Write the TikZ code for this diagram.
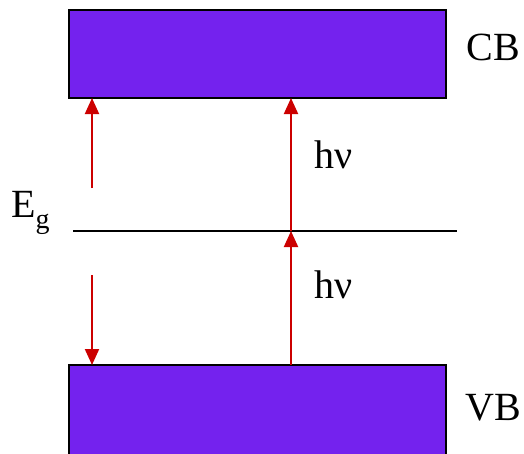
\documentclass[tikz,border=0pt]{standalone}
\usepackage{fontspec}
\setmainfont{Liberation Serif}
\usetikzlibrary{arrows.meta}
\definecolor{bandpurple}{RGB}{116,34,238}
\definecolor{arrred}{RGB}{204,0,0}
\tikzset{
  band/.style={draw=black, line width=2pt, fill=bandpurple, minimum width=377pt, inner sep=0pt},
  lbl/.style={inner sep=0pt, font=\fontsize{40}{44}\selectfont},
  photon/.style={draw=arrred, line width=2pt, -{Triangle[width=14pt,length=16pt]}},
  level/.style={draw=black, line width=2pt}
}
\begin{document}
\begin{tikzpicture}[x=1pt,y=-1pt]
\useasboundingbox (0,0) rectangle (524,453);
\clip (0,0) rectangle (524,453);
\node[band, minimum height=88pt] (cb) at (257.5,54) {};
\node[band, minimum height=110pt] (vb) at (257.5,420) {};
\coordinate (l1) at (73,231);
\coordinate (l2) at (457,231);
\draw[level] (l1) -- (l2);
\coordinate (a1) at (92,188);
\coordinate (a1e) at (92,98);
\coordinate (a2) at (92,275);
\coordinate (a2e) at (92,365);
\coordinate (b0) at (291,365);
\coordinate (b1) at (291,231);
\coordinate (b2) at (291,98);
\draw[photon] (a1) -- (a1e);
\draw[photon] (a2) -- (a2e);
\draw[photon] (b0) -- (b1);
\draw[photon] (b1) -- (b2);
\node[lbl] (cbl) at (493,47) {CB};
\node[lbl] (vbl) at (493,408) {VB};
\node[lbl] (h1) at (334,155) {hν};
\node[lbl] (h2) at (334,285) {hν};
\node[lbl, anchor=base west] (eg) at (11,217) {E\raisebox{-0.28em}{\fontsize{28}{30}\selectfont g}};
\end{tikzpicture}
\end{document}
